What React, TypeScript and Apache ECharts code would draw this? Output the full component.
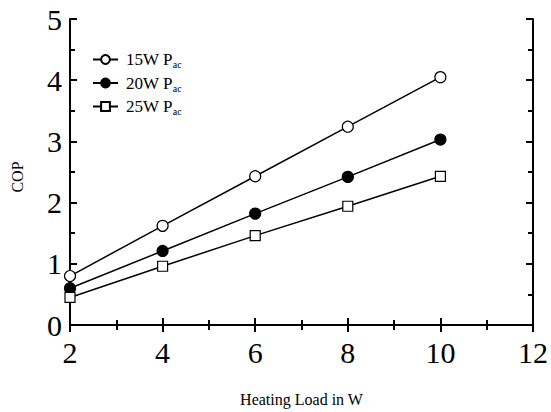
import React, { useEffect, useRef } from "react";
import * as echarts from "echarts";

const heatingLoad = [2, 4, 6, 8, 10];
const cop15W = [0.8, 1.62, 2.43, 3.24, 4.05];
const cop20W = [0.6, 1.21, 1.82, 2.42, 3.03];
const cop25W = [0.45, 0.96, 1.46, 1.94, 2.43];
const seriesNames = ["15W", "20W", "25W"];

const FONT = "Liberation Serif, Times New Roman, serif";

function axis(extra: any) {
  return {
    type: "value",
    splitLine: { show: false },
    axisLine: { show: true, lineStyle: { color: "#000", width: 2 } },
    axisTick: { show: true, inside: true, length: 7, lineStyle: { color: "#000", width: 2 } },
    minorTick: { show: true, splitNumber: 2, length: 5, lineStyle: { color: "#000", width: 2 } },
    ...extra,
  };
}

export default function App() {
  const ref = useRef<HTMLDivElement>(null);
  useEffect(() => {
    if (!ref.current) return;
    const chart = echarts.init(ref.current, null, { renderer: "svg" });
    const mk = (vals: number[]) => heatingLoad.map((x, i) => [x, vals[i]]);
    const seriesCommon = {
      type: "line",
      symbolSize: 11,
      lineStyle: { color: "#000", width: 1.5 },
    };
    chart.setOption({
      animation: false,
      backgroundColor: "#fff",
      textStyle: { fontFamily: FONT },
      grid: { left: 70, right: 17, top: 19, bottom: 85 },
      legend: {
        orient: "vertical",
        left: 87,
        top: 46,
        itemGap: 5,
        itemWidth: 25,
        itemHeight: 11,
        data: seriesNames,
        formatter: (name: string) => `{a|${name} P}{b|ac}`,
        textStyle: {
          rich: {
            a: { fontFamily: FONT, fontSize: 17, color: "#000", padding: [0, 0, 0, 3] },
            b: { fontFamily: FONT, fontSize: 10, color: "#000", padding: [10, 0, 0, 0] },
          },
        },
      },
      xAxis: [
        axis({
          min: 2,
          max: 12,
          interval: 2,
          name: "Heating Load in W",
          nameLocation: "middle",
          nameGap: 66,
          nameTextStyle: { fontFamily: FONT, fontSize: 16, color: "#000" },
          axisLabel: { fontFamily: FONT, fontSize: 30, color: "#000", margin: 12 },
        }),
        axis({
          position: "top",
          min: 2,
          max: 12,
          interval: 2,
          axisLabel: { show: false },
        }),
      ],
      yAxis: [
        axis({
          min: 0,
          max: 5,
          interval: 1,
          axisLabel: { fontFamily: FONT, fontSize: 30, color: "#000", margin: 8 },
        }),
        axis({
          position: "right",
          min: 0,
          max: 5,
          interval: 1,
          axisLabel: { show: false },
        }),
      ],
      graphic: [
        {
          type: "text",
          x: 17,
          y: 177,
          rotation: Math.PI / 2,
          style: {
            text: "COP",
            fontFamily: FONT,
            fontSize: 16,
            fill: "#000",
            align: "center",
            verticalAlign: "middle",
          },
        },
      ],
      series: [
        {
          ...seriesCommon,
          name: seriesNames[0],
          data: mk(cop15W),
          symbol: "circle",
          itemStyle: { color: "#fff", borderColor: "#000", borderWidth: 1.2 },
        },
        {
          ...seriesCommon,
          name: seriesNames[1],
          data: mk(cop20W),
          symbol: "circle",
          itemStyle: { color: "#000", borderColor: "#000", borderWidth: 1.2 },
        },
        {
          ...seriesCommon,
          name: seriesNames[2],
          symbolSize: 10,
          data: mk(cop25W),
          symbol: "rect",
          itemStyle: { color: "#fff", borderColor: "#000", borderWidth: 1.2 },
        },
      ],
    });
    return () => chart.dispose();
  }, []);
  return <div ref={ref} style={{ width: 551, height: 412, position: "absolute", left: 0, top: 0 }} />;
}
